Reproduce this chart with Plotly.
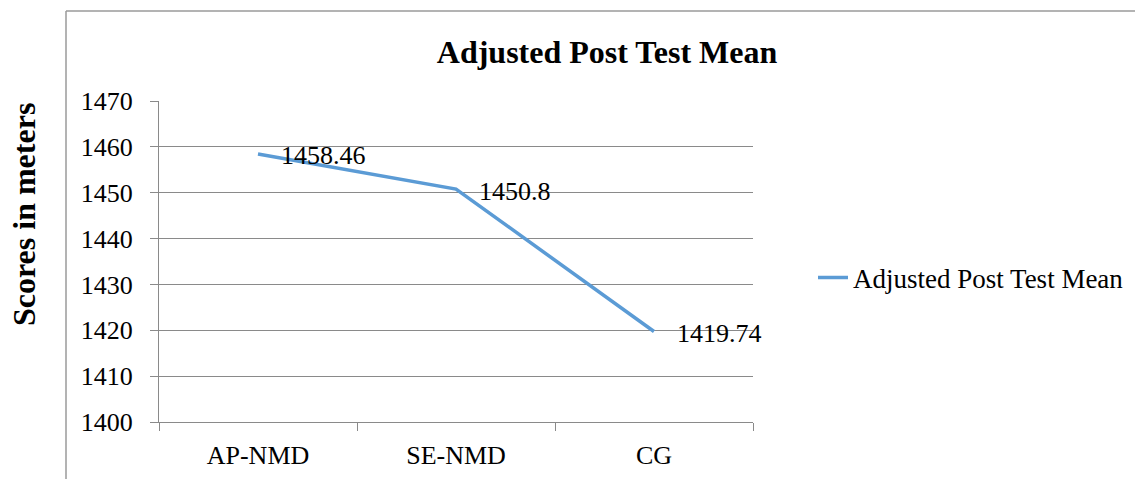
import plotly.graph_objects as go

categories = ["AP-NMD", "SE-NMD", "CG"]
values = [1458.46, 1450.8, 1419.74]
value_labels = ["1458.46", "1450.8", "1419.74"]
series_name = "Adjusted Post Test Mean"
chart_title = "Adjusted Post Test Mean"
y_title = "Scores in meters"
y_ticks = [1400, 1410, 1420, 1430, 1440, 1450, 1460, 1470]

FONT = "Liberation Serif"
GRID = "#8a8a8a"
BLUE = "#5B9BD5"

fig = go.Figure()
fig.add_trace(go.Scatter(
    x=categories, y=values, mode="lines", name=series_name,
    line=dict(color=BLUE, width=3.5), showlegend=True, hoverinfo="skip",
))

for c, v, t in zip(categories, values, value_labels):
    fig.add_annotation(x=c, y=v, xref="x", yref="y", text=t, showarrow=False,
                       xanchor="left", yanchor="middle", xshift=21, yshift=-2,
                       font=dict(family=FONT, size=26, color="black"))

# y-axis title (placed like the reference, above plot centre)
fig.add_annotation(x=(24 - 159) / 594, y=(422 - 215) / 321, xref="paper", yref="paper",
                   text="<b>" + y_title + "</b>", textangle=-90, showarrow=False,
                   xanchor="center", yanchor="middle",
                   font=dict(family=FONT, size=32, color="black"))

# outer chart-area border (left and top visible)
fig.add_shape(type="line", xref="paper", yref="paper",
              x0=(66 - 159) / 594, x1=(66 - 159) / 594,
              y0=(422 - 11) / 321, y1=(422 - 490) / 321,
              line=dict(color="#9a9a9a", width=1.5))
fig.add_shape(type="line", xref="paper", yref="paper",
              x0=(66 - 159) / 594, x1=(1140 - 159) / 594,
              y0=(422 - 11) / 321, y1=(422 - 11) / 321,
              line=dict(color="#9a9a9a", width=1.5))

fig.update_layout(
    width=1135, height=479,
    margin=dict(l=159, r=382, t=101, b=57, autoexpand=False),
    paper_bgcolor="white", plot_bgcolor="white",
    font=dict(family=FONT, size=26, color="black"),
    title=dict(text="<b>" + chart_title + "</b>", x=607 / 1135, xref="container",
               xanchor="center", y=1 - 52 / 479, yref="container", yanchor="middle",
               font=dict(family=FONT, size=32, color="black")),
    showlegend=True,
    legend=dict(x=(813 - 159) / 594, xanchor="left", y=(422 - 278) / 321, yanchor="middle",
                font=dict(family=FONT, size=27, color="black"),
                bgcolor="rgba(0,0,0,0)"),
    hovermode=False,
)

fig.update_xaxes(
    type="category", range=[-0.5, 2.5], tickson="boundaries", ticks="outside", ticklen=8,
    tickcolor=GRID, showline=True, linecolor=GRID, linewidth=1,
    showgrid=False, ticklabelstandoff=10, automargin=False,
    tickfont=dict(family=FONT, size=26, color="black"),
)
fig.update_yaxes(
    range=[1400, 1470], tickvals=y_ticks, ticks="outside", ticklen=8,
    tickcolor=GRID, showline=True, linecolor=GRID, linewidth=1,
    showgrid=True, gridcolor=GRID, gridwidth=1, zeroline=False,
    ticklabelstandoff=12, automargin=False,
    tickfont=dict(family=FONT, size=26, color="black"),
)

fig.write_html("out.html", config={"displayModeBar": False},
               post_script="document.body.style.margin='0';")
